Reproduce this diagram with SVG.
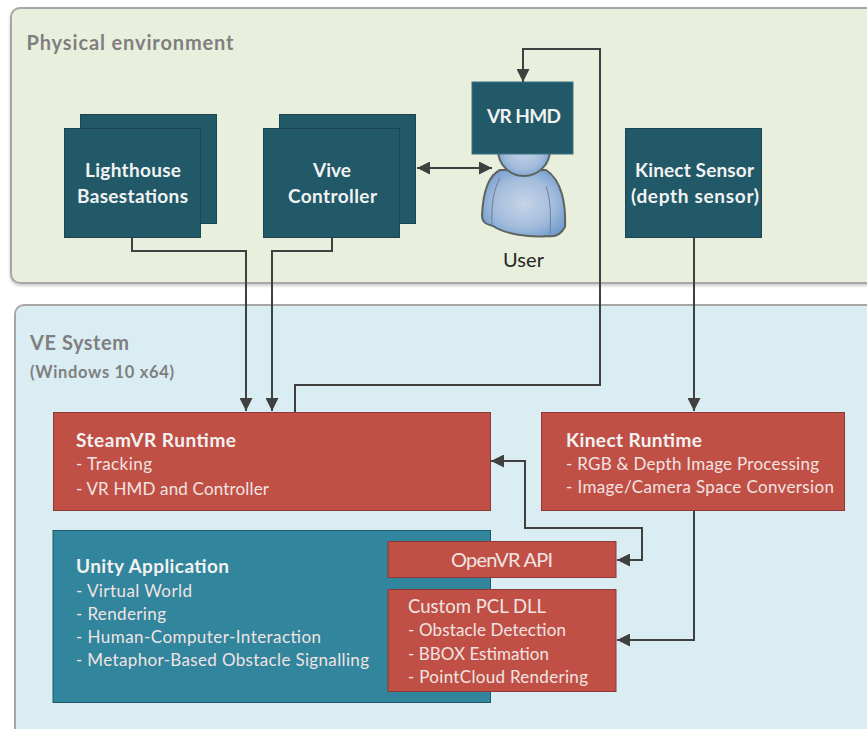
<svg xmlns="http://www.w3.org/2000/svg" width="867" height="729" viewBox="0 0 867 729">
<style>
text{font-family:Lato,"Liberation Sans",sans-serif}
.panel{stroke:#a6a6a6;stroke-width:2}
.plab{fill:#7f7f7f;font-weight:700}
.teal{fill:#215968;stroke:#1a4652;stroke-width:1}
.red{fill:#c05045;stroke:#8c3836;stroke-width:1}
.w{fill:#f2f2f2;font-size:19px;font-weight:700}
.wc{text-anchor:middle}
.l{fill:#f0e4e3;font-size:17px}
.conn{fill:none;stroke:#404040;stroke-width:2}
</style>
<defs>
<marker id="a" viewBox="0 0 13 13" refX="13" refY="6.500" markerWidth="13" markerHeight="13" markerUnits="userSpaceOnUse" orient="auto-start-reverse"><path d="M0 0L13 6.500L0 13Z" fill="#404040"/></marker>
<radialGradient id="u" cx="50%" cy="50%" r="60%"><stop offset="0" stop-color="#c6d4e8"/><stop offset="0.6" stop-color="#a4bddc"/><stop offset="1" stop-color="#6f9ccf"/></radialGradient>
<filter id="s" x="-5%" y="-5%" width="110%" height="110%"><feDropShadow dx="0" dy="2" stdDeviation="1.500" flood-color="#000" flood-opacity=".2"/></filter>
</defs>
<rect width="867" height="729" fill="#fff"/>
<g id="physical-environment">
<rect class="panel" x="11" y="8" width="880" height="275" rx="9" fill="#e9efdd" filter="url(#s)"/>
<text class="plab" x="26.500" y="50" font-size="20" textLength="207">Physical environment</text>
</g>
<g id="ve-system">
<rect class="panel" x="15" y="305" width="880" height="450" rx="9" fill="#daedf3"/>
<text class="plab" x="30" y="350" font-size="20" textLength="99">VE System</text>
<text class="plab" x="30" y="378" font-size="16.500" textLength="144">(Windows 10 x64)</text>
</g>
<g id="lighthouse">
<rect class="teal" x="80.500" y="114.500" width="136" height="109"/>
<rect class="teal" x="64.500" y="128.500" width="136" height="109"/>
<text class="w" x="85" y="177" textLength="96">Lighthouse</text>
<text class="w" x="77" y="203" textLength="111">Basestations</text>
</g>
<g id="vive-controller">
<rect class="teal" x="279.500" y="114.500" width="136" height="109"/>
<rect class="teal" x="263.500" y="128.500" width="136" height="109"/>
<text class="w" x="313" y="177" textLength="38">Vive</text>
<text class="w" x="288" y="203" textLength="89">Controller</text>
</g>
<g id="user">
<path d="M500 170C487 176 483 195 482 215C482 222 485 224 493 226C505 234 530 238 548 236C553 237 560 236 565 227C566 205 562 180 546 170Z" fill="url(#u)" stroke="#5f6360" stroke-width="2"/>
<circle cx="524" cy="150" r="26" fill="url(#u)" stroke="#5f6360" stroke-width="2"/>
<path d="M500 178C493 190 491 208 492 226M546 186C551 200 551 218 550 234" fill="none" stroke="#6d7f94" stroke-width="1"/>
<text x="503" y="267" font-size="20" textLength="41" fill="#262626">User</text>
</g>
<g id="vr-hmd">
<rect x="472" y="82" width="101" height="72" fill="#215968" stroke="#3c7282" stroke-width="1"/>
<text class="w" x="487" y="123" textLength="74">VR HMD</text>
</g>
<g id="kinect-sensor">
<rect class="teal" x="625.500" y="128.500" width="136" height="109"/>
<text class="w" x="635" y="177" textLength="119">Kinect Sensor</text>
<text class="w" x="631" y="203" textLength="128">(depth sensor)</text>
</g>
<g id="steamvr-runtime">
<rect class="red" x="53.500" y="412.500" width="437" height="98"/>
<text class="w" x="76" y="447" textLength="160">SteamVR Runtime</text>
<text class="l" x="76" y="470" textLength="76">- Tracking</text>
<text class="l" x="76" y="495" textLength="193">- VR HMD and Controller</text>
</g>
<g id="kinect-runtime">
<rect class="red" x="541.500" y="412.500" width="303" height="98"/>
<text class="w" x="566" y="447" textLength="136">Kinect Runtime</text>
<text class="l" x="566" y="470" textLength="253">- RGB &amp; Depth Image Processing</text>
<text class="l" x="566" y="493" textLength="268">- Image/Camera Space Conversion</text>
</g>
<g id="unity-application">
<rect x="53" y="530.500" width="437.500" height="172" fill="#31859c" stroke="#205867" stroke-width="1"/>
<text class="w" x="76" y="573" textLength="153">Unity Application</text>
<text class="l" x="76" y="597" textLength="116">- Virtual World</text>
<text class="l" x="76" y="620" textLength="90">- Rendering</text>
<text class="l" x="76" y="643" textLength="245">- Human-Computer-Interaction</text>
<text class="l" x="76" y="666" textLength="293">- Metaphor-Based Obstacle Signalling</text>
</g>
<g id="openvr-api">
<rect class="red" x="388" y="541.500" width="228" height="36"/>
<text x="451" y="567" font-size="20" textLength="102" fill="#f0e4e3">OpenVR API</text>
</g>
<g id="custom-pcl-dll">
<rect class="red" x="388" y="589.500" width="228" height="102"/>
<text x="408" y="613" font-size="18.500" textLength="138" fill="#f0e4e3">Custom PCL DLL</text>
<text class="l" x="408" y="636" textLength="158">- Obstacle Detection</text>
<text class="l" x="408" y="660" textLength="141">- BBOX Estimation</text>
<text class="l" x="408" y="683" textLength="180">- PointCloud Rendering</text>
</g>
<g id="connectors">
<path class="conn" d="M132 238V251H246V411" marker-end="url(#a)"/>
<path class="conn" d="M332 238V251H272V411" marker-end="url(#a)"/>
<path class="conn" d="M295 412V385H600V49H523V82" marker-end="url(#a)"/>
<path class="conn" d="M417 168H492" marker-start="url(#a)" marker-end="url(#a)"/>
<path class="conn" d="M694 238V411" marker-end="url(#a)"/>
<path class="conn" d="M694 511V640H617" marker-end="url(#a)"/>
<path class="conn" d="M491 461H525V528H642V560H617" marker-start="url(#a)" marker-end="url(#a)"/>
</g>
</svg>
